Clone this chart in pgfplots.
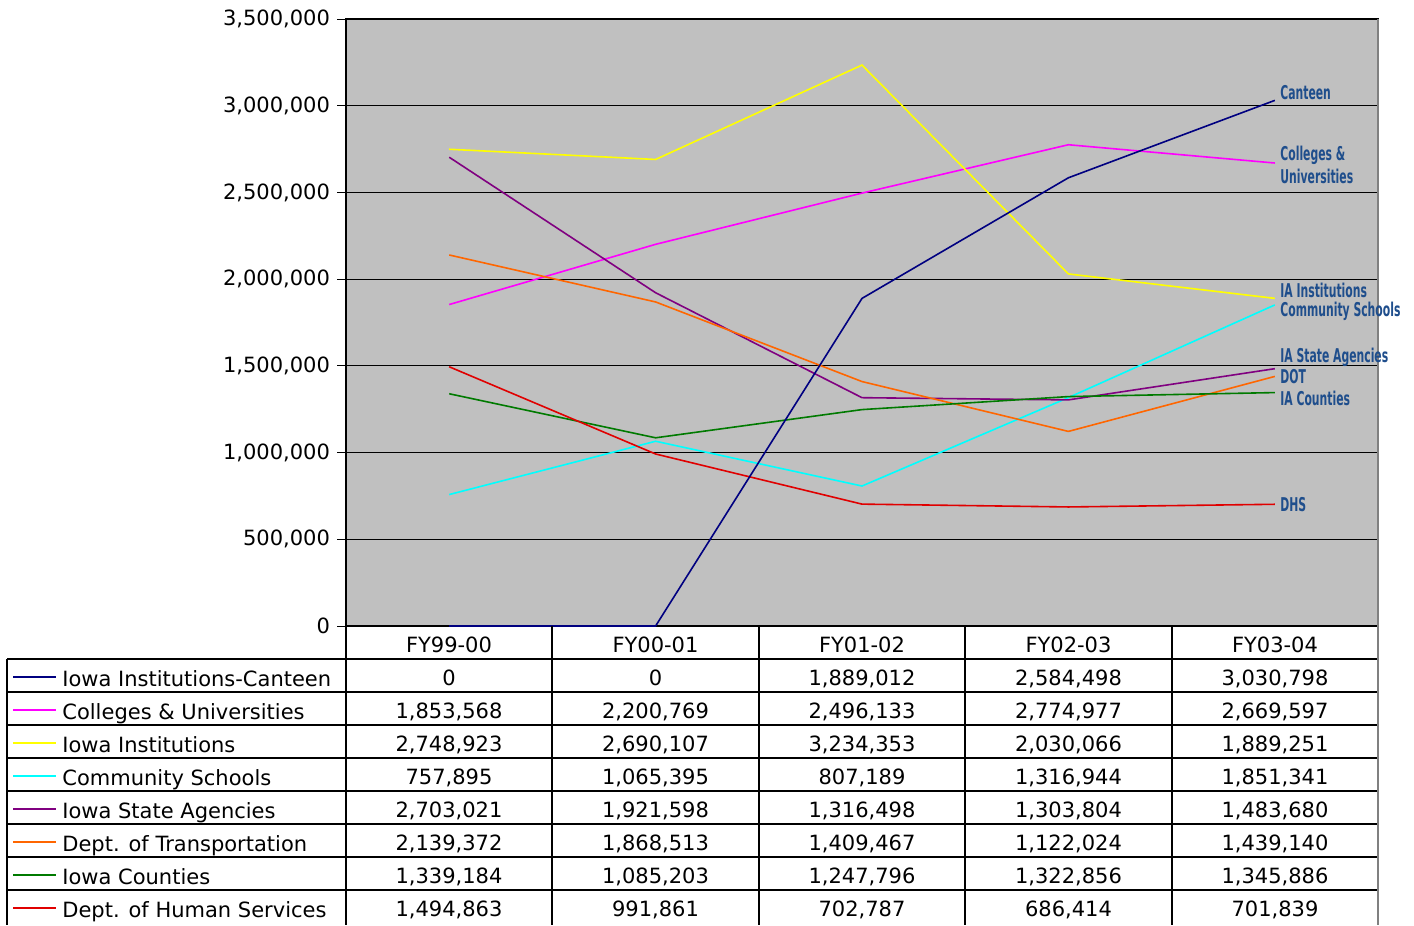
\documentclass[border=0pt]{standalone}
\usepackage{pgfplots}
\pgfplotsset{compat=1.18}
\usepackage{pgfplotstable}
\usepackage{fontspec}
\setmainfont{DejaVu Sans}
\newfontfamily\labfont[FakeStretch=0.57]{DejaVu Sans}
\definecolor{bgray}{HTML}{C0C0C0}
\definecolor{cnavy}{HTML}{000080}
\definecolor{cmag}{HTML}{FF00FF}
\definecolor{cyel}{HTML}{FFFF00}
\definecolor{ccyan}{HTML}{00FFFF}
\definecolor{cpurp}{HTML}{800080}
\definecolor{corange}{HTML}{FF6600}
\definecolor{cgreen}{HTML}{007A00}
\definecolor{cred}{HTML}{E00000}
\definecolor{labblue}{HTML}{1F4E8C}
\pgfplotstableread{
x canteen colleges inst comm state dot counties dhs
0 0 1853568 2748923 757895 2703021 2139372 1339184 1494863
1 0 2200769 2690107 1065395 1921598 1868513 1085203 991861
2 1889012 2496133 3234353 807189 1316498 1409467 1247796 702787
3 2584498 2774977 2030066 1316944 1303804 1122024 1322856 686414
4 3030798 2669597 1889251 1851341 1483680 1439140 1345886 701839
}\data
\pgfkeys{/pgf/number format/.cd,fixed,precision=0,1000 sep={,},assume math mode=true}
\begin{document}
\begin{tikzpicture}
\begin{scope}[x=0.5pt,y=-0.5pt]
\useasboundingbox (0,0) rectangle (1414,921);
\end{scope}
\begin{axis}[at={(173pt,-313pt)}, anchor=south west, scale only axis,
  set layers=standard,
  width=516pt, height=303.5pt,
  xmin=-0.5, xmax=4.5, ymin=0, ymax=3500000,
  xtick=\empty,
  ytick={0,500000,1000000,1500000,2000000,2500000,3000000,3500000},
  ymajorgrids, grid style={black, line width=0.5pt},
  tick align=outside, ytick pos=left, major tick length=4.5pt,
  major tick style={black, line width=0.5pt},
  axis background/.style={fill=bgray},
  axis line style={draw=black, line width=0.6pt},
  scaled y ticks=false,
  yticklabel style={font=\fontsize{10.5}{12}\selectfont, /pgf/number format/.cd, fixed, precision=0, 1000 sep={,}, assume math mode=true},
  every axis plot/.append style={line width=0.8pt, mark=none},
  clip=false]
\draw[gray, line width=1pt] (rel axis cs:1,0) -- (rel axis cs:1,1);
\addplot[cmag] table[x=x,y=colleges] {\data};
\addplot[cyel] table[x=x,y=inst] {\data};
\addplot[ccyan] table[x=x,y=comm] {\data};
\addplot[cpurp] table[x=x,y=state] {\data};
\addplot[corange] table[x=x,y=dot] {\data};
\addplot[cgreen] table[x=x,y=counties] {\data};
\addplot[cred] table[x=x,y=dhs] {\data};
\addplot[cnavy] table[x=x,y=canteen] {\data};
\end{axis}
\begin{scope}[x=0.5pt,y=-0.5pt]
\begin{scope}[every node/.style={anchor=west, inner sep=0pt, text=labblue, font=\labfont\bfseries\fontsize{9.5}{10}\selectfont}]
\node at (1280,93) {Canteen};
\node at (1280,155) {Colleges \&};
\node at (1280,176) {Universities};
\node at (1280,290) {IA Institutions};
\node at (1280,311) {Community Schools};
\node at (1280,357) {IA State Agencies};
\node at (1280,377) {DOT};
\node at (1280,398) {IA Counties};
\node at (1280,505) {DHS};
\end{scope}
\begin{scope}[font=\fontsize{10.5}{12}\selectfont]
\foreach \yy in {659,692,725,758,791,824,857,890} \draw[black, line width=0.6pt] (7,\yy) -- (1378,\yy);
\draw[black, line width=0.6pt] (7,659) -- (7,925);
\foreach \xx in {346,552,759,965,1172} \draw[black, line width=0.6pt] (\xx,626) -- (\xx,925);
\draw[gray, line width=1pt] (1378,626) -- (1378,925);
\foreach \h [count=\i from 0] in {FY99-00,FY00-01,FY01-02,FY02-03,FY03-04}
  \node[anchor=base, inner sep=0pt] at ({449+206.5*\i},652) {\h};
\foreach \s/\name/\col [count=\r from 0] in {canteen/Iowa Institutions-Canteen/cnavy, colleges/Colleges \& Universities/cmag, inst/Iowa Institutions/cyel, comm/Community Schools/ccyan, state/Iowa State Agencies/cpurp, dot/Dept. of Transportation/corange, counties/Iowa Counties/cgreen, dhs/Dept. of Human Services/cred} {
  \draw[\col, line width=1pt] (13,{677+33*\r}) -- (56,{677+33*\r});
  \node[anchor=base west, inner sep=0pt] at (62,{686+33*\r}) {\name};
  \foreach \c in {0,...,4} {
    \pgfplotstablegetelem{\c}{\s}\of\data
    \edef\v{\pgfplotsretval}
    \node[anchor=base, inner sep=0pt] at ({449+206.5*\c},{685+33*\r}) {\pgfmathprintnumber{\v}};
  }
}
\end{scope}
\end{scope}
\end{tikzpicture}
\end{document}
